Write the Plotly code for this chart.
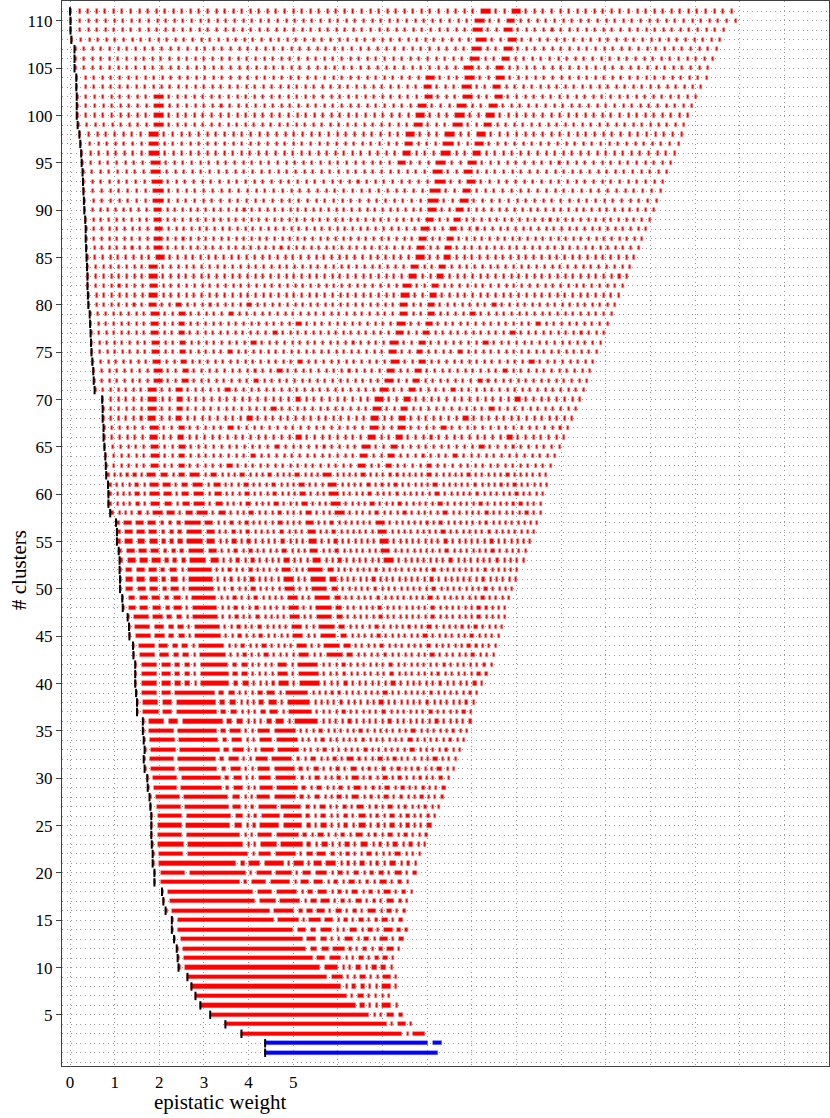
import plotly.graph_objects as go

# ---------------- data ----------------
ROWS = list(range(1, 112))          # number of clusters (y)
BLUE_ROWS = [1, 2]

# x (epistatic weight) where each row starts (black tick) and ends
ROW_START = [4.37, 4.37, 3.84, 3.48, 3.14, 2.92, 2.81, 2.72, 2.63, 2.43,
             2.41, 2.39, 2.33, 2.28, 2.28, 2.14, 2.09, 2.06, 1.89, 1.89,
             1.85, 1.85, 1.83, 1.82, 1.82, 1.82, 1.80, 1.78, 1.74, 1.73,
             1.67, 1.65, 1.67, 1.65, 1.63, 1.63, 1.50, 1.50, 1.48, 1.46,
             1.46, 1.46, 1.42, 1.41, 1.33, 1.32, 1.29, 1.18, 1.17, 1.12,
             1.12, 1.11, 1.11, 1.09, 1.05, 1.05, 1.03, 0.90, 0.86, 0.86,
             0.85, 0.81, 0.80, 0.79, 0.77, 0.75, 0.75, 0.73, 0.73, 0.72,
             0.55, 0.53, 0.52, 0.50, 0.48, 0.47, 0.46, 0.45, 0.44, 0.41,
             0.40, 0.39, 0.39, 0.38, 0.37, 0.36, 0.35, 0.35, 0.34, 0.32,
             0.31, 0.30, 0.29, 0.28, 0.26, 0.25, 0.23, 0.21, 0.17, 0.15,
             0.15, 0.15, 0.14, 0.14, 0.10, 0.10, 0.10, 0.03, 0.01, 0.01,
             0.00]
ROW_END = [8.25, 8.34, 7.94, 7.67, 7.45, 7.34, 7.17, 7.33, 7.33, 7.23,
           7.27, 7.40, 7.49, 7.56, 7.46, 7.53, 7.58, 7.67, 7.58, 7.78,
           7.76, 7.85, 7.98, 8.02, 8.10, 8.20, 8.28, 8.37, 8.43, 8.50,
           8.61, 8.65, 8.76, 8.84, 8.91, 9.00, 9.00, 9.06, 9.14, 9.25,
           9.35, 9.47, 9.51, 9.55, 9.62, 9.70, 9.77, 9.77, 9.85, 9.92,
           10.00, 10.03, 10.18, 10.22, 10.33, 10.41, 10.48, 10.56, 10.56, 10.61,
           10.70, 10.67, 10.82, 10.92, 11.02, 11.12, 11.21, 11.30, 11.39, 11.48,
           11.56, 11.63, 11.70, 11.77, 11.85, 11.93, 12.01, 12.09, 12.18, 12.26,
           12.35, 12.44, 12.53, 12.60, 12.69, 12.78, 12.87, 12.96, 13.03, 13.12,
           13.21, 13.30, 13.36, 13.45, 13.54, 13.61, 13.70, 13.77, 13.83, 13.92,
           14.01, 14.10, 14.21, 14.33, 14.37, 14.48, 14.56, 14.64, 14.71, 14.98,
           14.89]

# relative cluster widths along each row, left to right
# "." = singleton cluster, number = relative width, "w*n" = n clusters of width w
ROW_CLUSTERS = [
    "25",
    "25.8 2.2",
    "25.3 . 2.4",
    "25.3 . 1.9 .",
    "24.8 . . 1.8 1.3",
    "24.2 1.4 . . 2 .",
    "23.8 . 1.6 . . . .",
    "23.6 . 1.3 1.3 . . 2 .",
    "22 2.4 . . 1.5 . . 1.8 .",
    ". 21.2 2.7 . . 1.5 . 1.4 1.4 .",
    ". 20.2 1.9 2.4 . . 1.4 . 1.3 1.4 .",
    ". 19.3 1.7 1.7 2.5 . . 1.4 . 1.3 1.7 .",
    ". 19.1 2 1.6 . . 2 . 1.4 . 1.8 . 1.5",
    ". 18.3 2 1.5 2.5 . . 1.8 . 1.4 . 2 1.3 .",
    ". 15.8 3.9 . 2.5 2 . 1.3 . 1.5 . 1.2 1.6 . 1.4",
    ". 15.6 3.8 1.3 1.5 1.8 . 1.6 . 1.3 . 2 . 1.4 . 1.2",
    ". 13.8 3.1 3.8 . 1.5 2 . 1.3 . 1.6 . 1.2 . 1.8 1.2 .",
    ". 14.1 3 4 . 1.5 2.2 . 1.3 . 1.6 . 1.4 . 1.8 . 1.4 .",
    ". 13.2 1.2 3 3.8 . 2 2.2 . 1.4 . 1.6 . 1.3 . 1.8 . 1.4 .",
    ". 4.5 9.4 . 3 3.1 . 2 2.5 . 1.4 . 1.6 . 1.3 1.5 . 1.8 . 1.4",
    ". 13.7 1.4 2.6 3.9 . 2.3 . 2 2.4 . 1.3 . 1.6 . 1.3 . 1.8 . 1.4 .",
    ". 4.5 10.1 . 2.6 3.8 . 1.6 2.1 1.4 . 1.3 . . 1.4 . . . 1.6 . . .",
    ". 4.6 9.2 . . 3.2 4 1.3 . 1.6 . . 1.4 . 1.8 . 1.2 . 1.5 . 1.3 . .",
    ". 4.6 9.1 . . 3 4.2 1.3 . 1.6 . . 1.4 . 1.8 . 1.2 . 1.5 . 1.3 . . 1.2",
    ". 4.6 7.7 1.9 . 1.2 3.7 3.7 1.3 . 1.6 . . 1.4 . 1.8 . 1.2 . 1.5 . 1.3 . . 1.5",
    ". 4.6 7.8 1.9 . 1.2 3.6 3.5 1.3 . 1.6 . . 1.4 . 1.8 . 1.2 . 1.5 . 1.3 . . 1.2 .",
    ". 4.6 7.8 1.9 . 1.2 3.6 4 1.3 . 1.6 . . 1.4 . 1.8 . 1.2 . 1.5 . 1.3 . . 1.2 . .",
    ". 4.5 7.7 1.9 . . 2.8 4 1.3 . 1.6 . . 1.4 . 1.8 . 1.2 . 1.5 . 1.3 . . 1.2 . . 1.2",
    ". 4.4 7.2 1.2 2.2 . . 2.8 4 1.3 . 1.6 . . 1.4 . 1.8 . 1.2 . 1.5 . 1.3 . . 1.2 . . 1.5",
    ". 4.6 7 1.4 2 . . 2.8 4 1.3 . 1.6 . . 1.4 . 1.8 . 1.2 . 1.5 . 1.3 . . 1.2 . . 1.5 .",
    ". 4.6 6.9 1.4 2.4 . . 2.7 4 1.3 . 1.6 . . 1.4 . 1.8 . 1.2 . 1.5 . 1.3 . . 1.2 . . 1.5 . .",
    ". 4.6 6.9 1.4 2.4 . . 2.7 4 1.3 . 1.6 . . 1.4 . 1.8 . 1.2 . 1.5 . 1.3 . . 1.2 . . 1.5 . . .",
    ". 4.6 6.9 1.4 2.4 . . 2.7 4 .*3 1.4 .*5 1.3 .*6 1.5 .*4 1.2 .*2",
    ". 4.6 6.9 1.4 2.4 . . 2.7 4 .*3 1.4 .*5 1.3 .*6 1.5 .*5 1.2 .*2",
    ". 4.6 6.9 1.4 2.4 . . 2.7 4 .*3 1.4 .*5 1.3 .*7 1.5 .*5 1.2 .*2",
    ". 3.1 2.2 7 1.5 1.7 . . . 1.5 2 . 4.3 .*4 1.3 .*5 1.4 .*6 1.3 .*4 1.2",
    ". 3.1 2.2 7 1.5 1.7 . . . 1.5 2 . 4.3 .*4 1.3 .*5 1.4 .*6 1.3 .*4 1.2 .",
    ". 3.1 2.2 7 1.5 1.7 . . . 1.5 2 . 4.3 .*4 1.3 .*5 1.4 .*6 1.3 .*5 1.2 .",
    ". 3.1 2.2 7 1.5 1.7 . . . 1.5 2 . 4.3 .*4 1.3 .*6 1.4 .*6 1.3 .*5 1.2 .",
    ". 3.1 2.1 1.5 1.5 . 5 1.4 1.6 . . . . 2.2 . 3.8 .*3 1.3 .*6 1.4 .*6 1.2 .*4 1.3 .",
    ". 3.1 2.1 1.5 1.5 . 5 1.4 1.6 . . . . 2.2 . 3.8 .*3 1.3 .*6 1.4 .*6 1.2 .*5 1.3 .",
    ". 3.1 2.1 1.5 1.5 . 5 1.4 1.6 . . . . 2.2 . 3.8 .*3 1.3 .*6 1.4 .*7 1.2 .*5 1.3 .",
    ". 3.1 2.2 1.5 1.6 . 4.7 . . 1.3 . . 1.4 . . . . 2.3 . . 3.2 1.7 .*4 1.3 .*6 1.4 .*5 1.3 .*3",
    ". 3.1 2.2 1.5 1.6 . 4.7 . . 1.3 . . 1.4 . . . . 2.3 . . 3.2 1.7 .*4 1.3 .*6 1.4 .*5 1.3 .*4",
    ". 3.1 2.2 1.5 1.6 . 4.7 . . 1.3 . . 1.4 . . . . 2.3 . . 3.2 1.7 .*4 1.3 .*6 1.4 .*6 1.3 .*4",
    ". 3.1 2.2 1.5 1.6 . 4.7 . . 1.3 . . 1.4 . . . . 2.3 . . 3.2 1.7 .*4 1.3 .*7 1.4 .*6 1.3 .*4",
    ". 3.1 2.2 1.5 1.6 . 4.7 . . 1.3 . . 1.4 . . . . 2.3 . . 3.2 1.7 .*5 1.3 .*7 1.4 .*6 1.3 .*4",
    ". 1.8 2 2 1.4 1.9 . 4.6 . . 1.3 . . 1.4 . . . . 2.3 . . 3.2 1.7 .*5 1.3 .*7 1.4 .*6 1.3 .*4",
    ". 1.8 2 2 1.4 1.9 . 4.6 . . 1.3 . . 1.4 . . . . 2.3 . . 3.2 1.7 .*5 1.3 .*7 1.4 .*7 1.3 .*4",
    ". 1.8 2 2 1.4 1.9 . 4.6 . . 1.3 . . 1.4 . . . . 2.3 . . 3.2 1.7 .*5 1.3 .*8 1.4 .*7 1.3 .*4",
    ". 1.8 2 2 1.4 1.9 . 4.6 . . 1.3 . . 1.4 . . . . 2.3 . . 3.2 1.7 .*5 1.3 .*8 1.4 .*7 1.3 .*5",
    ". 1.8 2 2 1.4 1.9 . 4.6 . . 1.3 . . 1.4 . . . . 2.3 . . 3.2 1.7 .*6 1.3 .*8 1.4 .*7 1.3 .*5",
    "1.3 2 1.9 2 1.3 1.3 1.4 3.2 2 .*2 1.4 . 1.3 .*4 1.5 .*3 2 .*2 1.3 .*6 2.2 .*8 1.4 .*6 1.3 .*4",
    "1.3 2 1.9 2 1.3 1.3 1.4 3.2 2 .*2 1.4 . 1.3 .*4 1.5 .*3 2 .*2 1.3 .*6 2.2 .*8 1.4 .*6 1.3 .*5",
    "1.3 2 1.9 2 1.3 1.3 1.4 3.2 2 .*2 1.4 . 1.3 .*4 1.5 .*3 2 .*2 1.3 .*6 2.2 .*8 1.4 .*6 1.3 .*6",
    "1.3 2 1.9 2 1.3 1.3 1.4 3.2 2 .*2 1.4 . 1.3 .*4 1.5 .*3 2 .*2 1.3 .*6 2.2 .*8 1.4 .*6 1.3 .*7",
    "1.3 2 1.9 2 1.3 1.3 1.4 3.2 2 .*2 1.4 . 1.3 .*4 1.5 .*3 2 .*2 1.3 .*6 2.2 .*8 1.4 .*6 1.3 .*8",
    "1.3 . . . 1.4 . 2.2 1.9 . 1.8 2.4 . 1.8 .*3 1.5 .*3 1.4 .*3 1.6 .*3 2.2 .*4 1.4 .*3 1.3 .*5 1.5 .*5 1.3 .*5 1.3 .*2",
    "1.3 . . . 1.4 . 2.2 1.9 . 1.8 2.4 . 1.8 .*3 1.5 .*3 1.4 .*3 1.6 .*3 2.2 .*4 1.4 .*3 1.3 .*5 1.5 .*5 1.3 .*5 1.3 .*3",
    "1.3 . . . 1.4 . 2.2 1.9 . 1.8 2.4 . 1.8 .*3 1.5 .*3 1.4 .*3 1.6 .*3 2.2 .*4 1.4 .*3 1.3 .*5 1.5 .*5 1.3 .*5 1.3 .*4",
    "1.3 . . . 1.4 . 2.2 1.9 . 1.8 2.4 . 1.8 .*3 1.5 .*3 1.4 .*3 1.6 .*3 2.2 .*4 1.4 .*3 1.3 .*5 1.5 .*5 1.3 .*5 1.3 .*5",
    "1.3 . . . 1.4 . 2.2 1.9 . 1.8 2.4 . 1.8 .*3 1.5 .*3 1.4 .*3 1.6 .*3 2.2 .*4 1.4 .*3 1.3 .*5 1.5 .*5 1.3 .*5 1.3 .*6",
    ".*6 1.7 .*2 1.4 .*5 1.3 .*16 1.7 .*2 1.5 .*4 1.3 .*16",
    ".*6 1.7 .*2 1.4 .*8 1.3 .*13 1.7 .*2 1.5 .*7 1.3 .*13",
    ".*6 1.7 .*2 1.4 .*11 1.3 .*10 1.7 .*2 1.5 .*10 1.3 .*10",
    ".*6 1.7 .*2 1.4 .*14 1.3 .*8 1.7 .*2 1.5 .*13 1.3 .*7",
    ".*6 1.7 .*2 1.4 .*5 1.3 .*17 1.7 .*2 1.5 .*4 1.3 .*16",
    ".*6 1.7 .*2 1.4 .*8 1.3 .*15 1.7 .*2 1.5 .*7 1.3 .*14",
    ".*6 1.7 .*2 1.4 .*11 1.3 .*12 1.7 .*2 1.5 .*10 1.3 .*11",
    ".*6 1.7 .*2 1.4 .*14 1.3 .*9 1.7 .*2 1.5 .*13 1.3 .*8",
    ".*7 1.7 .*2 1.4 .*5 1.3 .*19 1.7 .*2 1.5 .*4 1.3 .*17",
    ".*8 1.7 .*2 1.4 .*8 1.3 .*16 1.7 .*2 1.5 .*7 1.3 .*14",
    ".*8 1.7 .*2 1.4 .*11 1.3 .*13 1.7 .*2 1.5 .*10 1.3 .*11",
    ".*8 1.7 .*2 1.4 .*14 1.3 .*11 1.7 .*2 1.5 .*13 1.3 .*8",
    ".*8 1.7 .*2 1.4 .*5 1.3 .*20 1.7 .*2 1.5 .*4 1.3 .*18",
    ".*8 1.7 .*2 1.4 .*8 1.3 .*17 1.7 .*2 1.5 .*7 1.3 .*15",
    ".*8 1.7 .*2 1.4 .*11 1.3 .*15 1.7 .*2 1.5 .*10 1.3 .*12",
    ".*8 1.7 .*2 1.4 .*14 1.3 .*12 1.7 .*2 1.5 .*13 1.3 .*9",
    ".*8 1.7 .*2 1.4 .*5 1.3 .*21 1.7 .*2 1.5 .*4 1.3 .*18",
    ".*8 1.7 .*2 1.4 .*8 1.3 .*19 1.7 .*2 1.5 .*7 1.3 .*16",
    ".*8 1.7 .*31 1.7 .*2 1.5 .*24",
    ".*8 1.7 .*31 1.7 .*2 1.5 .*24",
    ".*8 1.7 .*32 1.7 .*2 1.5 .*24",
    ".*8 1.7 .*32 1.7 .*2 1.5 .*24",
    ".*9 1.7 .*32 1.7 .*2 1.5 .*24",
    ".*9 1.7 .*33 1.7 .*2 1.5 .*25",
    ".*9 1.7 .*33 1.7 .*2 1.5 .*25",
    ".*9 1.7 .*33 1.7 .*2 1.5 .*25",
    ".*9 1.7 .*34 1.7 .*2 1.5 .*25",
    ".*9 1.7 .*34 1.7 .*2 1.5 .*25",
    ".*8 1.7 .*30 1.7 .*2 1.5 .*22",
    ".*8 1.7 .*30 1.7 .*2 1.5 .*22",
    ".*8 1.7 .*31 1.7 .*2 1.5 .*22",
    ".*8 1.7 .*31 1.7 .*2 1.5 .*23",
    ".*8 1.7 .*27 1.5 .*3 1.7 .*2 1.5 .*23",
    ".*8 1.7 .*28 1.5 .*3 1.7 .*2 1.5 .*23",
    ".*8 1.7 .*28 1.5 .*3 1.7 .*2 1.5 .*23",
    ".*8 1.7 .*28 1.5 .*3 1.7 .*2 1.5 .*23",
    ".*9 1.7 .*29 1.5 .*3 1.7 .*2 1.5 .*23",
    ".*9 1.7 .*29 1.5 .*3 1.7 .*2 1.5 .*23",
    ".*9 1.7 .*29 1.5 .*3 1.7 .*2 1.5 .*23",
    ".*9 1.7 .*30 1.5 .*3 1.7 .*2 1.5 .*23",
    ".*41 1.5 .*3 1.7 .*2 1.5 .*24",
    ".*41 1.5 .*3 1.7 .*2 1.5 .*24",
    ".*45 1.7 .*2 1.5 .*24",
    ".*46 1.7 .*2 1.5 .*24",
    ".*46 1.7 .*2 1.5 .*24",
    ".*47 1.7 .*2 1.5 .*24",
    ".*47 1.7 .*2 1.5 .*25",
    ".*47 1.7 .*2 1.5 .*26",
    ".*48 1.7 .*2 1.5 .*25",
]

X_TICKS = [0, 1, 2, 3, 4, 5]
Y_TICKS = list(range(5, 111, 5))

GAP = 0.1        # visual gap between neighbouring clusters (x units)
DOT_W = 0.045    # drawn width of a singleton cluster (x units)


def expand(pattern):
    out = []
    for tok in pattern.split():
        if "*" in tok:
            w, n = tok.split("*")
            out += [w] * int(n)
        else:
            out.append(tok)
    return out


def row_segments(start, end, pattern):
    toks = expand(pattern)
    weights = [1.0 if t == "." else float(t) for t in toks]
    scale = (end - start + GAP) / sum(weights)
    segs = []
    x = start
    for t, w in zip(toks, weights):
        slot = w * scale
        length = DOT_W if t == "." else max(slot - GAP, DOT_W)
        segs.append((x, length))
        x += slot
    return segs


red_base, red_len, red_y = [], [], []
blue_base, blue_len, blue_y = [], [], []
for row, s, e, pat in zip(ROWS, ROW_START, ROW_END, ROW_CLUSTERS):
    for b, l in row_segments(s, e, pat):
        if row in BLUE_ROWS:
            blue_base.append(b); blue_len.append(l); blue_y.append(row)
        else:
            red_base.append(b); red_len.append(l); red_y.append(row)

fig = go.Figure()
fig.add_trace(go.Bar(
    orientation="h", y=red_y, x=red_len, base=red_base, width=0.44,
    marker=dict(color="#ff0000", line=dict(width=0.7, color="rgba(255,110,110,0.55)")),
    showlegend=False, hoverinfo="skip"))
fig.add_trace(go.Bar(
    orientation="h", y=blue_y, x=blue_len, base=blue_base, width=0.44,
    marker=dict(color="#0000ff", line=dict(width=0.7, color="rgba(110,110,255,0.55)")),
    showlegend=False, hoverinfo="skip"))
fig.add_trace(go.Scatter(
    x=ROW_START, y=ROWS, mode="markers",
    marker=dict(symbol="line-ns", size=6, line=dict(width=2, color="black")),
    showlegend=False, hoverinfo="skip"))

grid = dict(gridcolor="#9a9a9a", griddash="1px,3.6px", gridwidth=1)
font = "Liberation Serif, DejaVu Serif, serif"

fig.update_layout(
    width=830, height=1118,
    margin=dict(l=62, r=1, t=1, b=52, autoexpand=False),
    paper_bgcolor="white", plot_bgcolor="white",
    barmode="overlay", bargap=0,
    font=dict(family=font, size=16, color="black"),
    xaxis=dict(range=[-0.18, 17.0], tickvals=X_TICKS, ticks="", automargin=False,
               showgrid=True, **grid, zeroline=False,
               minor=dict(dtick=1, tick0=0, showgrid=True, ticks="", **grid),
               showline=True, linecolor="#404040", linewidth=1.3, mirror=True,
               tickfont=dict(family=font, size=17)),
    yaxis=dict(range=[-0.4, 112.1], tickvals=Y_TICKS, ticks="outside", ticklen=5,
               automargin=False,
               tickcolor="#404040", showgrid=True, **grid, zeroline=False,
               minor=dict(dtick=1, tick0=0, showgrid=True, ticks="", **grid),
               showline=True, linecolor="#404040", linewidth=1.3, mirror=True,
               tickfont=dict(family=font, size=17)),
    annotations=[
        dict(text="epistatic weight", xref="paper", yref="paper", x=0.206, y=-0.034,
             xanchor="center", yanchor="middle", showarrow=False,
             font=dict(family=font, size=21)),
        dict(text="# clusters", xref="paper", yref="paper", x=-0.057, y=0.466,
             xanchor="center", yanchor="middle", showarrow=False, textangle=-90,
             font=dict(family=font, size=21)),
    ],
)

fig.write_html("out.html", config={"displayModeBar": False},
               post_script="document.body.style.margin='0';document.body.style.padding='0';")
